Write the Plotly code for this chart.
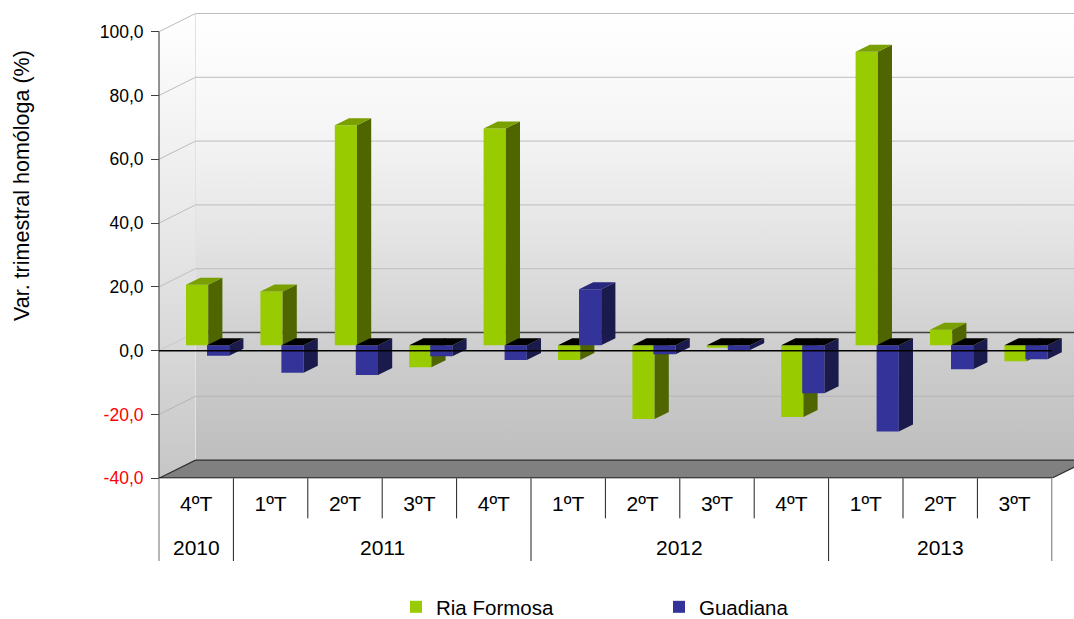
import plotly.graph_objects as go

quarters = ["4ºT", "1ºT", "2ºT", "3ºT", "4ºT", "1ºT", "2ºT", "3ºT", "4ºT", "1ºT", "2ºT", "3ºT"]
years = ["2010", "2011", "2012", "2013"]
year_starts = [0, 1, 5, 9, 12]
ria_formosa = [19.0, 16.9, 69.0, -6.9, 68.0, -4.6, -23.1, -0.8, -22.5, 92.0, 4.9, -5.0]
guadiana = [-3.3, -8.6, -9.3, -3.4, -4.6, 17.6, -2.8, -1.5, -15.0, -27.0, -7.5, -4.4]
y_ticks = [-40, -20, 0, 20, 40, 60, 80, 100]
y_title = "Var. trimestral homóloga (%)"

GREEN, GREEN_SIDE, GREEN_TOP = "#99CC00", "#4F6600", "#7A9F00"
BLUE, BLUE_SIDE, BLUE_TOP = "#333399", "#1A1A4D", "#28287F"
FONT = "Liberation Sans, Arial, sans-serif"

W, H = 1074, 619
PX_X = 74.4
PX_Y = 3.19
X0_PX, Y_FLOOR_PX = 159, 478.3
PAD_PX = 3
WALL_DX, WALL_DY = 36.5 / PX_X, 18.2 / PX_Y
BAR_DX, BAR_DY = 14.2 / PX_X, 7.0 / PX_Y
BAR_BASE = 5.4 / PX_Y
BAR_W = 22.2 / PX_X
GREEN_OFF, BLUE_OFF = 27.0 / PX_X, 48.0 / PX_X

x_range = [-PAD_PX / PX_X, (W - X0_PX) / PX_X]
y_range = [-40, -40 + Y_FLOOR_PX / PX_Y]
domain_x = [(X0_PX - PAD_PX) / W, 1]
domain_y = [(H - Y_FLOOR_PX) / H, 1]
n = len(quarters)
x_far = x_range[1] + 1

fig = go.Figure()


def poly(points, color, ax=""):
    xs = [p[0] for p in points]
    ys = [p[1] for p in points]
    fig.add_trace(go.Scatter(x=xs, y=ys, mode="lines", fill="toself", fillcolor=color,
                             line=dict(width=0), hoverinfo="skip", showlegend=False,
                             xaxis="x" + ax, yaxis="y" + ax))


def line(xs, ys, color, width=1):
    fig.add_trace(go.Scatter(x=xs, y=ys, mode="lines", line=dict(color=color, width=width),
                             hoverinfo="skip", showlegend=False))


def gradpoly(xs, ys, stops):
    scale = [[1 - s, c] for s, c in reversed(stops)]
    fig.add_trace(go.Scatter(x=xs, y=ys, mode="lines", fill="toself",
                             fillgradient=dict(type="vertical", colorscale=scale),
                             line=dict(width=0), hoverinfo="skip", showlegend=False))


wall_stops = [[0, "#FFFFFF"], [0.25, "#F6F6F6"], [0.5, "#E4E4E4"], [0.75, "#CECECE"], [1, "#BEBEBE"]]
left_stops = [[0, "#FFFFFF"], [0.5, "#E6E6E6"], [1, "#C6C6C6"]]
top_wall = 100 + WALL_DY
floor_back = -40 + WALL_DY

gradpoly([WALL_DX, x_far, x_far, WALL_DX, WALL_DX],
         [top_wall, top_wall, floor_back, floor_back, top_wall], wall_stops)
gradpoly([0, WALL_DX, WALL_DX, 0, 0], [100, top_wall, floor_back, -40, 100], left_stops)

line([WALL_DX, WALL_DX], [floor_back, top_wall], "#E2E2E2")
for t in y_ticks[1:]:
    if t != 0:
        line([0, WALL_DX, x_far], [t, t + WALL_DY, t + WALL_DY], "#BDBDBD" if t > 0 else "#B4B4B4")
line([0, WALL_DX], [0, WALL_DY], "#C8C8C8")
line([WALL_DX, x_far], [WALL_DY, WALL_DY], "#404040", 1.5)

poly([(0, -40), (WALL_DX, floor_back), (x_far, floor_back), (n + WALL_DX, floor_back), (n, -40), (0, -40)], "#808080")
line([0, WALL_DX, x_far], [-40, floor_back, floor_back], "#303030", 1.2)
line([n, n + WALL_DX], [-40, floor_back], "#303030", 1.2)


def series(values, off, name, front, side, top, ax):
    xs = [i + off for i in range(n)]
    fig.add_trace(go.Bar(x=xs, y=values, base=[BAR_BASE] * n, width=[BAR_W] * n, offset=[0] * n,
                         name=name, marker=dict(color=front, line=dict(width=0)),
                         xaxis="x" + ax, yaxis="y" + ax))
    sx, sy, tx, ty, bx, by = [], [], [], [], [], []
    for x, v in zip(xs, values):
        r = x + BAR_W
        sx += [r, r + BAR_DX, r + BAR_DX, r, r, None]
        sy += [BAR_BASE, BAR_BASE + BAR_DY, BAR_BASE + v + BAR_DY, BAR_BASE + v, BAR_BASE, None]
        lvl = BAR_BASE + max(v, 0)
        px = [x, r, r + BAR_DX, x + BAR_DX, x, None]
        py = [lvl, lvl, lvl + BAR_DY, lvl + BAR_DY, lvl, None]
        if v > 0:
            tx += px
            ty += py
        else:
            bx += px
            by += py
    poly(list(zip(sx, sy)), side, ax)
    if tx:
        poly(list(zip(tx, ty)), top, ax)
    if bx:
        poly(list(zip(bx, by)), "#000000", ax)


series(ria_formosa, GREEN_OFF, "Ria Formosa", GREEN, GREEN_SIDE, GREEN_TOP, "2")
series(guadiana, BLUE_OFF, "Guadiana", BLUE, BLUE_SIDE, BLUE_TOP, "3")

# axis lines and dividers, above every trace
fig.add_shape(type="line", xref="x", yref="y", x0=0, x1=0, y0=-40, y1=100, layer="above",
              line=dict(color="#595959", width=1.3))
fig.add_shape(type="line", xref="x", yref="y", x0=0, x1=n, y0=-40, y1=-40, layer="above",
              line=dict(color="#000000", width=1.5))
fig.add_shape(type="line", xref="x", yref="y", x0=0, x1=n, y0=0, y1=0, layer="above",
              line=dict(color="#000000", width=1.5))
for i in range(n + 1):
    bottom_px = 561 if i in year_starts else 518.3
    fig.add_shape(type="line", xref="x", yref="paper", x0=i, x1=i, y0=(H - Y_FLOOR_PX) / H, y1=(H - bottom_px) / H,
                  layer="above", line=dict(color="#707070" if i in (0, n) else "#202020", width=1))

fig.update_layout(
    width=W, height=H, margin=dict(l=0, r=0, t=0, b=0, autoexpand=False),
    paper_bgcolor="white", plot_bgcolor="white", barmode="overlay",
    font=dict(family=FONT, size=21, color="#000000"),
    showlegend=True,
    legend=dict(orientation="h", x=(402 - 6) / W, y=(H - 607) / H, xanchor="left", yanchor="middle",
                entrywidth=218, entrywidthmode="pixels", font=dict(size=20.5), traceorder="normal",
                bgcolor="rgba(0,0,0,0)"),
    xaxis=dict(domain=domain_x, range=x_range, showgrid=False, zeroline=False, showline=False,
               tickmode="array", tickvals=[i + 0.5 for i in range(n)], ticktext=quarters,
               ticks="outside", ticklen=6, tickcolor="rgba(0,0,0,0)", tickfont=dict(size=21), tickangle=0),
    yaxis=dict(domain=domain_y, range=y_range, showgrid=False, zeroline=False, showline=False,
               anchor="free", position=X0_PX / W,
               tickmode="array", tickvals=y_ticks,
               ticktext=[(f'<span style="color:#FF0000">{t:.1f}</span>' if t < 0 else f"{t:.1f}").replace(".", ",")
                         for t in y_ticks],
               ticks="outside", ticklen=8, tickcolor="#404040", tickfont=dict(size=17.5),
               ticklabelstandoff=4),
)
for ax in ("2", "3"):
    fig.update_layout(**{
        "xaxis" + ax: dict(domain=domain_x, range=x_range, visible=False, overlaying="x", anchor="y" + ax),
        "yaxis" + ax: dict(domain=domain_y, range=y_range, visible=False, overlaying="y", anchor="x" + ax),
    })

for k in range(len(years)):
    fig.add_annotation(text=years[k], xref="x", yref="paper",
                       x=(year_starts[k] + year_starts[k + 1]) / 2, y=(H - 547) / H, yanchor="middle",
                       showarrow=False, font=dict(size=21))
fig.add_annotation(text=y_title, xref="paper", yref="paper", x=22 / W, y=(H - 186) / H, textangle=-90,
                   xanchor="center", yanchor="middle", showarrow=False, font=dict(size=21.5))

fig.write_html("out.html", config=dict(displayModeBar=False), post_script="document.body.style.margin='0';")
